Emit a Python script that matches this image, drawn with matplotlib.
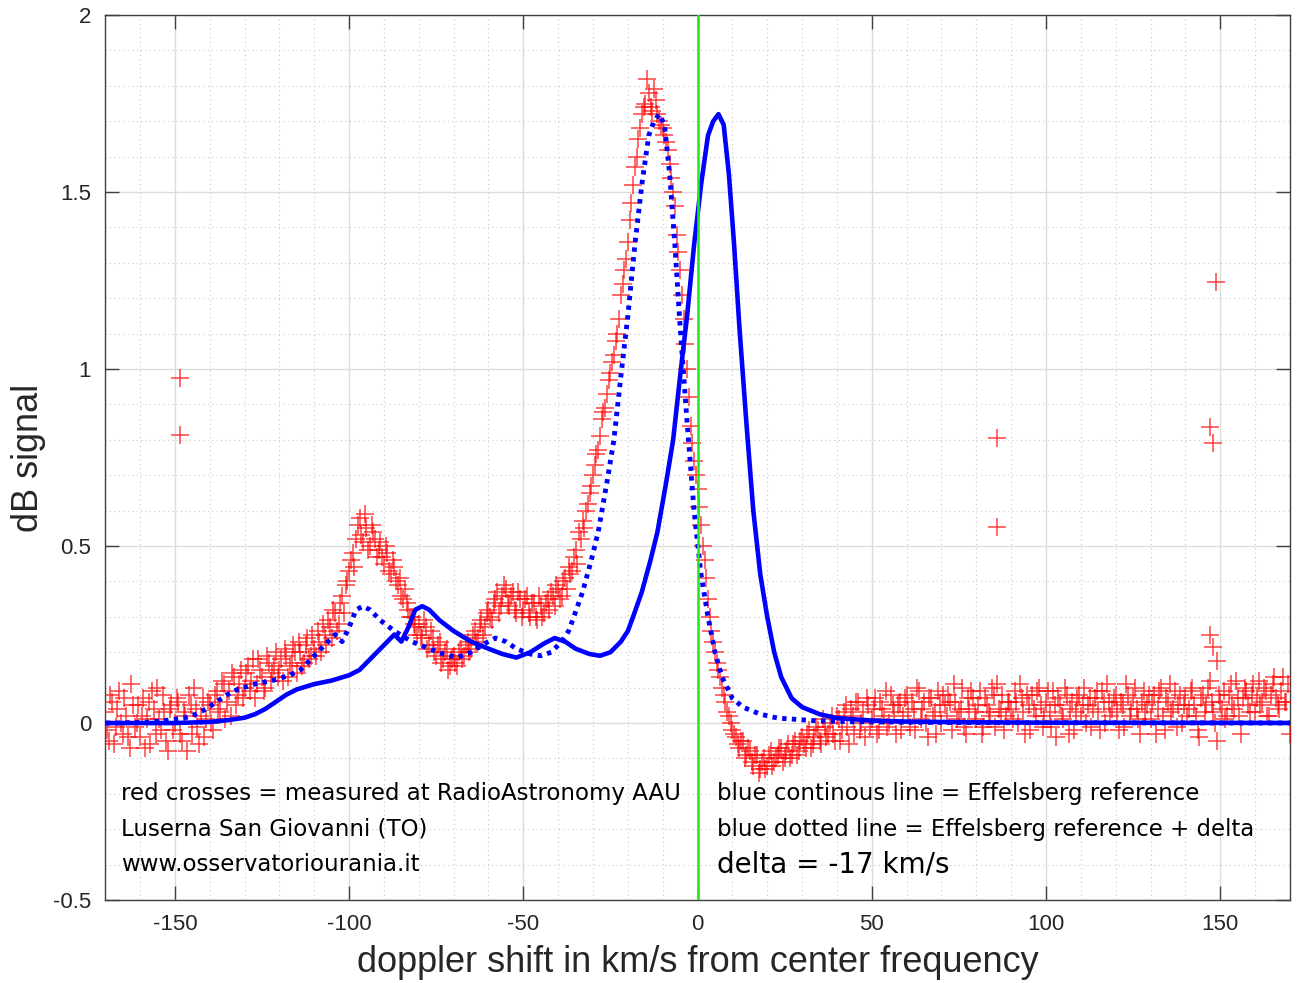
import numpy as np
import matplotlib
matplotlib.use("Agg")
import matplotlib.pyplot as plt
from matplotlib.ticker import MultipleLocator

# measured spectrum (red crosses), one value per km/s, from -170 to 170
meas_int = [
    0.03, -0.05, 0.06, -0.01, 0.09, -0.03, 0.02, -0.07, 0.05, 0.00,
    -0.04, 0.07, 0.01, -0.06, 0.04, 0.10, -0.02, 0.03, -0.08, 0.05,
    0.00, 0.06, -0.05, 0.02, 0.08, -0.03, 0.04, -0.06, 0.07, 0.01,
    0.05, -0.02, 0.09, 0.03, 0.11, 0.06, 0.02, 0.13, 0.08, 0.15,
    0.10, 0.16, 0.12, 0.07, 0.18, 0.13, 0.10, 0.17, 0.14, 0.20,
    0.15, 0.12, 0.19, 0.16, 0.22, 0.14, 0.20, 0.17, 0.24, 0.19,
    0.21, 0.26, 0.20, 0.25, 0.29, 0.24, 0.31, 0.28, 0.36, 0.39,
    0.43, 0.48, 0.52, 0.58, 0.51, 0.55, 0.50, 0.54, 0.47, 0.51,
    0.45, 0.48, 0.42, 0.44, 0.39, 0.36, 0.38, 0.32, 0.30, 0.27,
    0.28, 0.24, 0.27, 0.22, 0.24, 0.19, 0.23, 0.18, 0.21, 0.16,
    0.19, 0.16, 0.21, 0.19, 0.23, 0.21, 0.26, 0.24, 0.29, 0.27,
    0.32, 0.29, 0.35, 0.31, 0.36, 0.38, 0.33, 0.37, 0.31, 0.35,
    0.32, 0.36, 0.30, 0.34, 0.29, 0.33, 0.31, 0.35, 0.37, 0.33,
    0.38, 0.36, 0.41, 0.44, 0.43, 0.49, 0.54, 0.57, 0.60, 0.65,
    0.70, 0.76, 0.81, 0.88, 0.93, 0.99, 1.04, 1.10, 1.21, 1.28,
    1.36, 1.47, 1.57, 1.65, 1.72, 1.75, 1.78, 1.73, 1.76, 1.70,
    1.68, 1.64, 1.58, 1.50, 1.38, 1.28, 1.14, 1.00, 0.84, 0.74,
    0.66, 0.56, 0.46, 0.35, 0.26, 0.20, 0.15, 0.10, 0.06, 0.02,
    -0.02, -0.04, -0.07, -0.05, -0.09, -0.08, -0.12, -0.09, -0.13, -0.10,
    -0.12, -0.08, -0.11, -0.09, -0.07, -0.10, -0.06, -0.09, -0.05, -0.08,
    -0.04, -0.07, -0.02, -0.06, -0.01, -0.05, 0.01, -0.04, 0.00, -0.03,
    0.02, -0.05, 0.03, -0.01, 0.04, -0.03, 0.06, 0.00, -0.04, 0.05,
    0.01, 0.07, -0.02, 0.04, 0.09, 0.00, 0.05, -0.03, 0.06, 0.02,
    0.08, -0.01, 0.04, 0.10, 0.01, 0.06, -0.04, 0.07, 0.03, 0.09,
    0.00, 0.05, 0.08, -0.02, 0.06, 0.03, 0.10, -0.03, 0.04, 0.07,
    0.01, 0.09, -0.01, 0.05, 0.02, 0.08, 0.11, 0.03, -0.02, 0.06,
    0.04, 0.09, 0.00, 0.07, -0.03, 0.05, 0.08, 0.02, 0.10, -0.01,
    0.06, 0.03, 0.09, -0.04, 0.05, 0.01, 0.08, 0.04, -0.02, 0.07,
    0.02, 0.10, 0.05, -0.01, 0.07, 0.03, 0.09, 0.00, 0.06, 0.04,
    0.08, -0.02, 0.05, 0.11, 0.02, 0.07, 0.04, -0.03, 0.09, 0.05,
    0.01, 0.08, 0.04, 0.10, -0.02, 0.06, 0.03, 0.09, 0.05, 0.00,
    0.07, 0.04, 0.10, 0.02, -0.04, 0.08, 0.05, 0.12, 0.03, -0.05,
    0.06, 0.09, 0.02, 0.11, 0.04, 0.07, -0.03, 0.10, 0.05, 0.08,
    0.03, 0.12, 0.06, 0.09, 0.02, 0.11, 0.07, 0.04, 0.13, 0.06,
    -0.03,
]

# measured spectrum, samples in between (-169.5 .. 169.5)
meas_half = [
    -0.02, 0.08, -0.06, 0.04, 0.00, 0.07, -0.04, 0.11, -0.01, 0.05,
    0.02, -0.07, 0.06, 0.09, -0.03, 0.01, 0.08, -0.05, 0.04, -0.02,
    0.07, -0.03, 0.03, -0.08, 0.05, 0.10, -0.01, 0.02, -0.04, 0.06,
    0.00, 0.08, 0.04, 0.12, 0.01, 0.09, 0.14, 0.05, 0.11, 0.07,
    0.14, 0.09, 0.18, 0.11, 0.15, 0.09, 0.19, 0.12, 0.16, 0.13,
    0.18, 0.21, 0.13, 0.17, 0.20, 0.23, 0.16, 0.22, 0.18, 0.25,
    0.19, 0.23, 0.28, 0.22, 0.27, 0.32, 0.26, 0.34, 0.31, 0.40,
    0.46, 0.44, 0.56, 0.53, 0.59, 0.49, 0.56, 0.52, 0.49, 0.47,
    0.50, 0.43, 0.46, 0.40, 0.41, 0.35, 0.34, 0.30, 0.28, 0.25,
    0.25, 0.29, 0.21, 0.26, 0.20, 0.22, 0.17, 0.20, 0.15, 0.18,
    0.17, 0.20, 0.18, 0.22, 0.20, 0.25, 0.23, 0.28, 0.25, 0.31,
    0.30, 0.34, 0.37, 0.33, 0.39, 0.34, 0.36, 0.32, 0.37, 0.30,
    0.35, 0.31, 0.34, 0.30, 0.36, 0.30, 0.34, 0.32, 0.36, 0.39,
    0.35, 0.40, 0.38, 0.42, 0.47, 0.45, 0.52, 0.55, 0.62, 0.67,
    0.73, 0.77, 0.86, 0.89, 0.97, 1.02, 1.08, 1.14, 1.24, 1.31,
    1.42, 1.52, 1.60, 1.68, 1.74, 1.82, 1.74, 1.79, 1.72, 1.69,
    1.66, 1.62, 1.54, 1.46, 1.33, 1.21, 1.07, 0.92, 0.79, 0.70,
    0.61, 0.50, 0.41, 0.30, 0.23, 0.17, 0.13, 0.08, 0.03, 0.00,
    -0.03, -0.06, -0.05, -0.10, -0.07, -0.11, -0.09, -0.14, -0.11, -0.13,
    -0.09, -0.12, -0.10, -0.07, -0.11, -0.08, -0.10, -0.06, -0.09, -0.05,
    -0.06, -0.03, -0.07, -0.04, -0.02, -0.06, -0.01, -0.03, 0.02, -0.05,
    0.01, -0.02, 0.05, -0.06, 0.02, 0.06, -0.02, 0.03, 0.07, -0.01,
    0.04, -0.03, 0.06, 0.02, -0.01, 0.08, 0.03, 0.05, -0.02, 0.07,
    0.03, 0.06, -0.02, 0.09, 0.04, 0.00, 0.07, 0.02, -0.03, 0.05,
    0.08, 0.02, 0.06, 0.11, 0.01, 0.04, -0.01, 0.07, 0.09, 0.03,
    0.05, -0.03, 0.07, 0.03, 0.10, -0.01, 0.04, 0.08, 0.02, 0.06,
    0.01, 0.06, 0.11, 0.03, 0.08, -0.02, 0.04, 0.09, 0.05, 0.02,
    0.09, -0.01, 0.05, 0.07, 0.02, 0.10, -0.03, 0.06, 0.03, 0.08,
    0.05, 0.00, 0.07, 0.04, 0.09, -0.02, 0.06, 0.11, 0.02, 0.07,
    0.03, 0.06, -0.01, 0.08, 0.04, 0.10, 0.01, 0.06, 0.03, 0.08,
    0.06, -0.03, 0.09, 0.02, 0.07, 0.11, 0.04, -0.01, 0.08, 0.05,
    0.02, 0.09, 0.05, -0.02, 0.07, 0.03, 0.10, 0.06, 0.00, 0.08,
    0.04, 0.01, 0.08, 0.05, 0.12, 0.02, 0.07, 0.09, 0.03, 0.11,
    0.07, 0.05, 0.10, 0.02, 0.08, 0.13, 0.05, 0.09, 0.06, 0.11,
]

# isolated spikes (interference)
spike_x = [-148.5, -148.5, 86, 86, 148.8, 147, 148, 147, 148, 149]
spike_y = [0.975, 0.815, 0.805, 0.555, 1.245, 0.835, 0.79, 0.25, 0.215, 0.175]

# Effelsberg reference profile
ref_x = [-190, -170, -160, -150, -140, -135, -130, -127, -124, -121,
         -118, -115, -110, -105, -100, -97, -93, -90, -87, -85,
         -83, -81, -79, -77, -74, -70, -65, -60, -56, -52,
         -48, -44, -41, -38, -35, -31, -28, -25, -22, -20,
         -18.5, -16, -13.5, -11.5, -9, -7, -5, -3, -1, 1,
         3, 4.5, 6, 7.5, 9, 10.5, 12, 14, 16, 18,
         20, 22, 24, 27, 30, 35, 40, 50, 60, 80,
         100, 190]
ref_y = [0.0, 0.0, 0.0, 0.0, 0.003, 0.008, 0.015, 0.025, 0.04, 0.06,
         0.08, 0.095, 0.11, 0.12, 0.135, 0.15, 0.19, 0.22, 0.25, 0.23,
         0.27, 0.32, 0.33, 0.32, 0.29, 0.26, 0.23, 0.21, 0.195, 0.185,
         0.2, 0.225, 0.24, 0.23, 0.21, 0.195, 0.19, 0.2, 0.23, 0.26,
         0.30, 0.37, 0.46, 0.54, 0.68, 0.8, 0.98, 1.15, 1.35, 1.52,
         1.66, 1.70, 1.72, 1.69, 1.55, 1.35, 1.12, 0.85, 0.6, 0.42,
         0.3, 0.2, 0.13, 0.07, 0.045, 0.025, 0.014, 0.007, 0.004, 0.002,
         0.001, 0.0]

delta = -17

plt.rcParams['font.family'] = ['DejaVu Sans']

fig = plt.figure(figsize=(12.98, 9.83), dpi=100)
ax = fig.add_axes([0.081, 0.0844, 0.9128, 0.9003])

x_int = np.arange(-170, 171)
x_half = np.arange(-169.5, 170, 1.0)
meas_x = np.concatenate([x_int, x_half, spike_x])
meas_y = np.concatenate([meas_int, meas_half, spike_y])

ax.plot(meas_x, meas_y, linestyle="none", marker="+", color="red",
        markersize=13, markeredgewidth=1.1, alpha=0.75, zorder=3)
ax.plot(ref_x, ref_y, color="blue", linewidth=3.3, zorder=4)
ax.plot(np.array(ref_x) + delta, ref_y, color="blue", linewidth=3.5,
        linestyle=(0, (0.9, 1.1)), zorder=4)
ax.axvline(0, color="#1ee81e", linewidth=1.8, zorder=5)

ax.set_xlim(-170, 170)
ax.set_ylim(-0.5, 2)
ax.xaxis.set_major_locator(MultipleLocator(50))
ax.xaxis.set_minor_locator(MultipleLocator(10))
ax.yaxis.set_major_locator(MultipleLocator(0.5))
ax.yaxis.set_minor_locator(MultipleLocator(0.1))
ax.set_yticks([-0.5, 0, 0.5, 1, 1.5, 2])
ax.set_yticklabels(["-0.5", "0", "0.5", "1", "1.5", "2"])
ax.set_xticklabels([str(int(v)) for v in ax.get_xticks()])

ax.grid(which="major", color="#dcdcdc", linewidth=1.0)
ax.grid(which="minor", color="#c8c8c8", linewidth=0.8, linestyle=(0, (1, 3)))
ax.set_axisbelow(True)
ax.tick_params(which="major", direction="in", length=10, width=1.0,
               top=True, right=True, color="#404040", pad=10)
ax.tick_params(which="minor", length=0)
for lbl in ax.get_xticklabels() + ax.get_yticklabels():
    lbl.set_family("Liberation Sans")
    lbl.set_fontsize(16)
    lbl.set_color("#262626")
for s in ax.spines.values():
    s.set_color("#404040")
    s.set_linewidth(1.0)

ax.set_xlabel("doppler shift in km/s from center frequency", fontsize=26,
              family="Liberation Sans", color="#262626", labelpad=7)
ax.set_ylabel("dB signal", fontsize=26, family="Liberation Sans",
              color="#262626", labelpad=5)

ax.text(-165.5, -0.2, "red crosses = measured at RadioAstronomy AAU",
        fontsize=16.5, va="center", zorder=6)
ax.text(-165.5, -0.3, "Luserna San Giovanni (TO)", fontsize=16.5,
        va="center", zorder=6)
ax.text(-165.5, -0.4, "www.osservatoriourania.it", fontsize=16.5,
        va="center", zorder=6)
ax.text(5.5, -0.2, "blue continous line = Effelsberg reference",
        fontsize=16.5, va="center", zorder=6)
ax.text(5.5, -0.3, "blue dotted line = Effelsberg reference + delta",
        fontsize=16.5, va="center", zorder=6)
ax.text(5.5, -0.4, "delta = -17 km/s", fontsize=20, va="center", zorder=6)

fig.savefig("out.png", dpi=100)
